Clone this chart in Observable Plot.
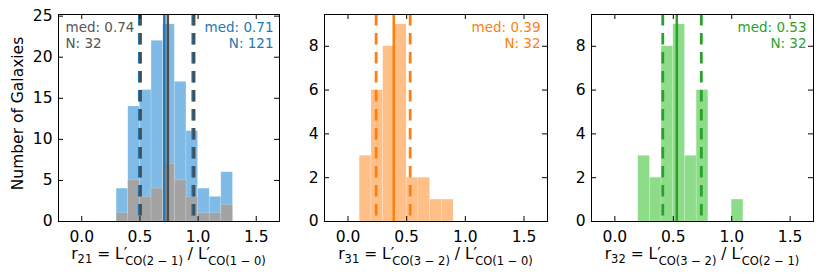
<!DOCTYPE html>
<html>
<head>
<meta charset="utf-8">
<script src="https://cdn.jsdelivr.net/npm/d3@7"></script>
<script src="https://cdn.jsdelivr.net/npm/@observablehq/plot@0.6"></script>
<style>
  html, body { margin: 0; padding: 0; background: white; }
  #wrap { position: relative; width: 830px; height: 277px; overflow: hidden; background: white; }
  #wrap svg { position: absolute; top: 0; overflow: visible; }
</style>
</head>
<body>
<div id="wrap"></div>
<script>
// ---------------- data ----------------
const xTicks = [0, 0.5, 1.0, 1.5];

const r21Edges = [0.3, 0.4, 0.5, 0.6, 0.7, 0.8, 0.9, 1.0, 1.1, 1.2, 1.3];
const r21CountsAll = [4, 14, 16, 22, 24, 17, 11, 4, 3, 6];   // N = 121
const r21CountsSub = [1, 5, 3, 4, 7, 5, 3, 1, 1, 2];         // N = 32
const r21MedAll = 0.71, r21MedSub = 0.74;
const r21PctAll = [0.495, 0.955];
const r21PctSub = [0.505, 0.965];
const r21Yticks = [0, 5, 10, 15, 20, 25];

const r31Edges = [0.1, 0.2, 0.3, 0.4, 0.5, 0.6, 0.7, 0.8, 0.9];
const r31Counts = [3, 6, 8, 9, 2, 2, 1, 1];                  // N = 32
const r31Med = 0.39;
const r31Pct = [0.24, 0.53];

const r32Edges = [0.2, 0.3, 0.4, 0.5, 0.6, 0.7, 0.8, 0.9, 1.0, 1.1];
const r32Counts = [3, 2, 8, 9, 3, 6, 0, 0, 1];               // N = 32
const r32Med = 0.53;
const r32Pct = [0.41, 0.74];

const smallYticks = [0, 2, 4, 6, 8];

// ---------------- helpers ----------------
const FONT = "DejaVu Sans";
const H = 277, MT = 14, MB = 56;
const frameH = H - MT - MB;

function bins(edges, counts) {
  return counts.map((c, i) => ({x1: edges[i], x2: edges[i + 1], c}));
}

function panel(cfg) {
  const frameW = cfg.width - cfg.mL - cfg.mR;
  const marks = [];
  for (const s of cfg.series) {
    marks.push(Plot.rect(bins(s.edges, s.counts).filter(d => d.c > 0), {
      x1: "x1", x2: "x2", y1: 0, y2: "c", fill: s.fill,
      stroke: "white", strokeOpacity: 0.3, strokeWidth: 0.6
    }));
  }
  for (const l of cfg.lines) {
    marks.push(Plot.ruleX(l.values, {
      x: d => d, stroke: l.color, strokeWidth: l.dash ? 2.8 : 2.5,
      strokeDasharray: l.dash ? "11.5,7.5" : null
    }));
  }
  marks.push(
    Plot.frame({stroke: "black", strokeWidth: 1}),
    Plot.tickX(xTicks, {x: d => d, insetTop: frameH - 5, stroke: "black"}),
    Plot.tickX(xTicks, {x: d => d, insetBottom: frameH - 5, stroke: "black"}),
    Plot.tickY(cfg.yTicks, {y: d => d, insetRight: frameW - 5, stroke: "black"}),
    Plot.tickY(cfg.yTicks, {y: d => d, insetLeft: frameW - 5, stroke: "black"}),
    Plot.axisX(xTicks, {tickSize: 0, tickPadding: 9, tickFormat: d3.format(".1f"), label: null, fontSize: 15.5}),
    Plot.axisY(cfg.yTicks, {tickSize: 0, tickPadding: 6, label: null, fontSize: 15.5})
  );
  for (const a of cfg.notes) {
    marks.push(Plot.text([a.text], {
      frameAnchor: a.anchor, dx: a.dx, dy: 6,
      textAnchor: a.anchor === "top-right" ? "end" : "start",
      lineAnchor: "top", lineHeight: 1.19, fill: a.color, fontSize: 13.5
    }));
  }
  const svg = Plot.plot({
    width: cfg.width, height: H,
    marginLeft: cfg.mL, marginRight: cfg.mR, marginTop: MT, marginBottom: MB,
    x: {domain: [-0.2, 1.7]},
    y: {domain: [0, cfg.ymax]},
    style: {fontFamily: FONT, fontSize: "15.5px", color: "black", background: "transparent"},
    marks
  });
  svg.style.left = cfg.left + "px";

  // x label with subscripts
  const t = d3.select(svg).append("text")
    .attr("x", cfg.mL + frameW / 2).attr("y", 259)
    .attr("text-anchor", "middle")
    .attr("font-family", FONT).attr("font-size", 15.5).attr("fill", "black");
  const parts = cfg.xlabel;
  t.append("tspan").text(parts[0]);
  t.append("tspan").attr("font-size", 11.5).attr("dy", 4).text(parts[1]);
  t.append("tspan").attr("dy", -4).text(" = L′");
  t.append("tspan").attr("font-size", 11.5).attr("dy", 5.5).attr("dx", -2).text(parts[2]);
  t.append("tspan").attr("dy", -5.5).text(" / L′");
  t.append("tspan").attr("font-size", 11.5).attr("dy", 5.5).attr("dx", -2).text(parts[3]);

  if (cfg.ylabel) {
    d3.select(svg).append("text")
      .attr("transform", `translate(22.5, ${MT + frameH / 2 - 4}) rotate(-90)`)
      .attr("text-anchor", "middle")
      .attr("font-family", FONT).attr("font-size", 15.5).attr("fill", "black")
      .text(cfg.ylabel);
  }
  document.getElementById("wrap").appendChild(svg);
}

const BLUE = "#1f77b4", GRAYL = "#4d4d4d", ORANGE = "#ff7f0e", GREEN = "#2ca02c";

panel({
  left: 0, width: 280, mL: 58, mR: 1, ymax: 25.2, yTicks: r21Yticks,
  series: [
    {edges: r21Edges, counts: r21CountsAll, fill: "#7fbbe6"},
    {edges: r21Edges, counts: r21CountsSub, fill: "#a3a3a3"}
  ],
  lines: [
    {values: [r21MedAll], color: BLUE},
    {values: r21PctAll, color: BLUE, dash: true},
    {values: [r21MedSub], color: GRAYL},
    {values: r21PctSub, color: GRAYL, dash: true}
  ],
  notes: [
    {text: `med: ${r21MedSub.toFixed(2)}\nN: ${d3.sum(r21CountsSub)}`, anchor: "top-left", dx: 7, color: "#555555"},
    {text: `med: ${r21MedAll.toFixed(2)}\nN: ${d3.sum(r21CountsAll)}`, anchor: "top-right", dx: -6, color: BLUE}
  ],
  xlabel: ["r", "21", "CO(2 − 1)", "CO(1 − 0)"],
  ylabel: "Number of Galaxies"
});

panel({
  left: 280, width: 270, mL: 44, mR: 3, ymax: 9.45, yTicks: smallYticks,
  series: [{edges: r31Edges, counts: r31Counts, fill: "#ffbf87"}],
  lines: [
    {values: [r31Med], color: ORANGE},
    {values: r31Pct, color: ORANGE, dash: true}
  ],
  notes: [
    {text: `med: ${r31Med.toFixed(2)}\nN: ${d3.sum(r31Counts)}`, anchor: "top-right", dx: -7, color: ORANGE}
  ],
  xlabel: ["r", "31", "CO(3 − 2)", "CO(1 − 0)"]
});

panel({
  left: 550, width: 280, mL: 41, mR: 17, ymax: 9.45, yTicks: smallYticks,
  series: [{edges: r32Edges, counts: r32Counts, fill: "#8ddc88"}],
  lines: [
    {values: [r32Med], color: GREEN},
    {values: r32Pct, color: GREEN, dash: true}
  ],
  notes: [
    {text: `med: ${r32Med.toFixed(2)}\nN: ${d3.sum(r32Counts)}`, anchor: "top-right", dx: -7, color: GREEN}
  ],
  xlabel: ["r", "32", "CO(3 − 2)", "CO(2 − 1)"]
});
</script>
</body>
</html>
